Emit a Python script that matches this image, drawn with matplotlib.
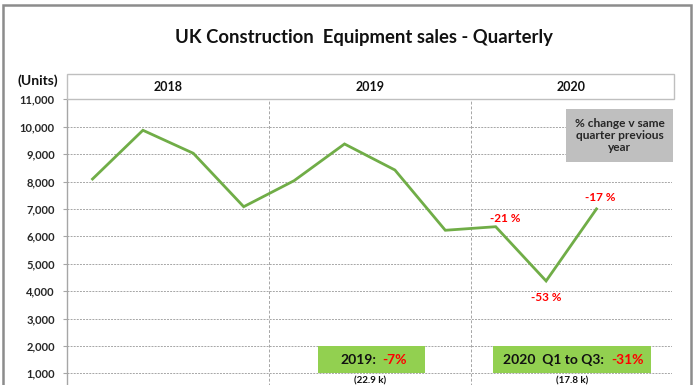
import matplotlib
matplotlib.use("Agg")
import matplotlib.pyplot as plt
from matplotlib.patches import Rectangle
import numpy as np

plt.rcParams['font.family'] = ['Lato', 'DejaVu Sans']
plt.rcParams['font.weight'] = 'bold'

# ---- data ----
years = ["2018", "2019", "2020"]
quarters = ["Q1", "Q2", "Q3", "Q4"] * 3
sales = [8090, 9870, 9030, 7080, 8030, 9370, 8420, 6220, 6350, 4370, 7000]
pct_labels = ["-21 %", "-53 %", "-17 %"]
pct_index = [8, 9, 10]
pct_offsets = [(7, 6), (0, -12), (3, 8)]
yticks = [1000, 2000, 3000, 4000, 5000, 6000, 7000, 8000, 9000, 10000, 11000]
annual_2019 = "-7%"
annual_2020 = "-31%"
totals = ["(22.9 k)", "(17.8 k)"]

W, H = 696, 385
fig = plt.figure(figsize=(W / 100, H / 100), dpi=100)
fig.patch.set_facecolor('white')

def fx(px):
    return px / W

def fy(py):
    return 1 - py / H

# axes: x from 67.3 to 672.1 px, y 11000 at 99.3 px, 0 at 400.7 px
left_px, right_px = 67.3, 672.1
top_px, bot_px = 99.3, 400.7
ax = fig.add_axes([fx(left_px), fy(bot_px), fx(right_px) - fx(left_px), fy(top_px) - fy(bot_px)])
ax.set_xlim(-0.5, 11.5)
ax.set_ylim(0, 11000)

x = np.arange(len(sales))
ax.plot(x, sales, color='#70ad47', lw=2.0, solid_joinstyle='miter', zorder=3)

ax.set_yticks(yticks)
ax.set_yticklabels([f"{v:,}" for v in yticks], fontsize=8, fontweight='bold', color='#262626')
ax.set_xticks([])
ax.tick_params(axis='y', length=3, width=0.8, color='#a6a6a6', pad=6)
for s in ['top', 'right', 'bottom']:
    ax.spines[s].set_visible(False)
ax.spines['left'].set_color('#a6a6a6')
ax.spines['left'].set_linewidth(1.0)
ax.grid(axis='y', color='#a6a6a6', linestyle=(0, (2, 1.2)), lw=0.7, zorder=0)
for xv in [3.5, 7.5]:
    ax.axvline(xv, color='#a6a6a6', linestyle=(0, (3, 2)), lw=0.7, zorder=0)

# percentage change annotations
for lab, i, off in zip(pct_labels, pct_index, pct_offsets):
    ax.annotate(lab, (x[i], sales[i]), xytext=off, textcoords='offset points',
                ha='center', va='center', color='#ff0000', fontsize=8.5, fontweight='bold')

# header box with years
fig.patches.append(Rectangle((fx(67.3), fy(99.3)), fx(674.3) - fx(67.3), fy(74) - fy(99.3),
                             transform=fig.transFigure, facecolor='white', edgecolor='#bfbfbf',
                             lw=1.0, zorder=1))
for k, yr in enumerate(years):
    cx = 67.3 + (k + 0.5) * 4 * 50.4
    fig.text(fx(cx), fy(87), yr, ha='center', va='center', fontsize=9, fontweight='bold', color='#111111')
fig.text(fx(38), fy(81), "(Units)", ha='center', va='center', fontsize=10, fontweight='bold', color='#111111')

# title
fig.text(fx(364), fy(37), "UK Construction  Equipment sales - Quarterly", ha='center', va='center',
         fontsize=13.3, fontweight='bold', color='#111111')

# gray note box
fig.patches.append(Rectangle((fx(566), fy(162)), fx(673) - fx(566), fy(109) - fy(162),
                             transform=fig.transFigure, facecolor='#bfbfbf', edgecolor='none', zorder=2))
fig.text(fx(619.5), fy(135.5), "% change v same\nquarter previous\nyear", ha='center', va='center',
         fontsize=8.6, fontweight='bold', color='#262626', linespacing=1.15, zorder=3)

# green annual boxes
fig.patches.append(Rectangle((fx(317.7), fy(373.3)), fx(425) - fx(317.7), fy(345.7) - fy(373.3),
                             transform=fig.transFigure, facecolor='#92d050', edgecolor='none', zorder=2))
fig.patches.append(Rectangle((fx(492.7), fy(373.3)), fx(651) - fx(492.7), fy(345.7) - fy(373.3),
                             transform=fig.transFigure, facecolor='#92d050', edgecolor='none', zorder=2))
fig.text(fx(340), fy(360), "2019:", ha='left', va='center', fontsize=10, fontweight='bold', color='#111111', zorder=3)
fig.text(fx(382.7), fy(360), annual_2019, ha='left', va='center', fontsize=10, fontweight='bold', color='#ff0000', zorder=3)
fig.text(fx(502.7), fy(360), "2020  Q1 to Q3:", ha='left', va='center', fontsize=10, fontweight='bold', color='#111111', zorder=3)
fig.text(fx(611.7), fy(360), annual_2020, ha='left', va='center', fontsize=10, fontweight='bold', color='#ff0000', zorder=3)

# totals (at the bottom edge)
fig.text(fx(370), fy(376), totals[0], ha='center', va='top', fontsize=7, fontweight='bold', color='#111111')
fig.text(fx(572), fy(376), totals[1], ha='center', va='top', fontsize=7, fontweight='bold', color='#111111')

# outer frame
fig.patches.append(Rectangle((fx(3), fy(400)), fx(690.5) - fx(3), fy(5) - fy(400),
                             transform=fig.transFigure, facecolor='none', edgecolor='#8c8c8c', lw=1.8, zorder=5))

fig.savefig("out.png", dpi=100)
